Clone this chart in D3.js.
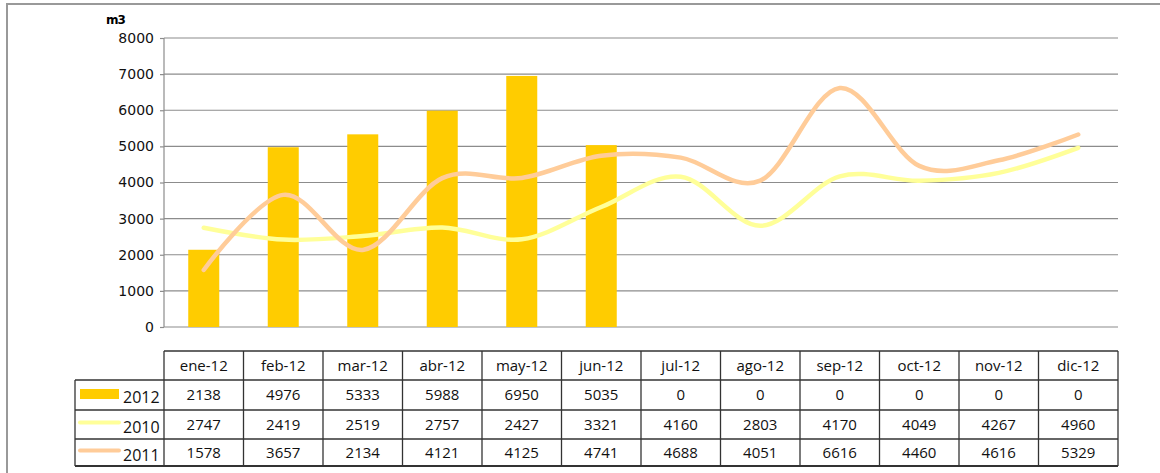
<!DOCTYPE html>
<html>
<head>
<meta charset="utf-8">
<script src="https://cdn.jsdelivr.net/npm/d3@7"></script>
<style>
  body { margin: 0; background: #fff; }
  svg { display: block; }
  .tick text { font-family: "DejaVu Sans", sans-serif; font-size: 14px; fill: #111; }
  .cell { font-family: "Open Sans", sans-serif; font-size: 15px; fill: #111; }
</style>
</head>
<body>
<div id="chart"></div>
<script>
var months = ["ene-12", "feb-12", "mar-12", "abr-12", "may-12", "jun-12", "jul-12", "ago-12", "sep-12", "oct-12", "nov-12", "dic-12"];
var s2012 = [2138, 4976, 5333, 5988, 6950, 5035, 0, 0, 0, 0, 0, 0];
var s2010 = [2747, 2419, 2519, 2757, 2427, 3321, 4160, 2803, 4170, 4049, 4267, 4960];
var s2011 = [1578, 3657, 2134, 4121, 4125, 4741, 4688, 4051, 6616, 4460, 4616, 5329];
var yTicks = [0, 1000, 2000, 3000, 4000, 5000, 6000, 7000, 8000];

var W = 1160, H = 473,
    plotLeft = 164, plotRight = 1118, plotTop = 38, plotBottom = 327,
    colors = { bar: "#ffcc00", l2010: "#ffff99", l2011: "#ffcc99" };

var svg = d3.select("#chart").append("svg")
    .attr("width", W)
    .attr("height", H);

// outer frame
svg.append("rect")
    .attr("x", 7).attr("y", 4)
    .attr("width", W + 20).attr("height", H + 20)
    .attr("fill", "none")
    .attr("stroke", "#999")
    .attr("stroke-width", 2);

var x = d3.scaleBand().domain(months).range([plotLeft, plotRight]).paddingInner(0.61).paddingOuter(0.305);
var xc = d3.scaleBand().domain(months).range([plotLeft, plotRight]);
var y = d3.scaleLinear().domain([0, 8000]).range([plotBottom, plotTop]);

// gridlines
svg.append("g").selectAll("line")
    .data(yTicks)
    .enter().append("line")
    .attr("x1", plotLeft).attr("x2", plotRight)
    .attr("y1", function (d) { return y(d); })
    .attr("y2", function (d) { return y(d); })
    .attr("stroke", "#8c8c8c")
    .attr("stroke-width", 1.2);

var yAxis = svg.append("g")
    .attr("transform", "translate(" + plotLeft + ",0)")
    .call(d3.axisLeft(y).tickValues(yTicks).tickSize(4).tickPadding(6).tickFormat(d3.format("d")));
yAxis.selectAll("path, line").attr("stroke", "#8c8c8c").attr("stroke-width", 1.2);
yAxis.select(".domain").attr("d", "M0," + plotBottom + "V" + plotTop);

svg.append("text")
    .attr("x", 106).attr("y", 24)
    .attr("font-family", "DejaVu Sans, sans-serif")
    .attr("font-size", 12)
    .attr("font-weight", "bold")
    .attr("letter-spacing", -1)
    .text("m3");

// bars 2012
svg.append("g").selectAll("rect")
    .data(s2012)
    .enter().append("rect")
    .attr("x", function (d, i) { return x(months[i]); })
    .attr("y", function (d) { return y(d); })
    .attr("width", x.bandwidth())
    .attr("height", function (d) { return y(0) - y(d); })
    .attr("fill", colors.bar);

var line = d3.line()
    .x(function (d, i) { return xc(months[i]) + xc.bandwidth() / 2; })
    .y(function (d) { return y(d); })
    .curve(d3.curveCardinal.tension(0));

svg.append("path")
    .datum(s2010)
    .attr("d", line)
    .attr("fill", "none")
    .attr("stroke", colors.l2010)
    .attr("stroke-width", 4.5)
    .attr("stroke-linecap", "round");

svg.append("path")
    .datum(s2011)
    .attr("d", line)
    .attr("fill", "none")
    .attr("stroke", colors.l2011)
    .attr("stroke-width", 4.5)
    .attr("stroke-linecap", "round");

// data table
var rowTops = [351, 380, 410, 439, 466];
var legLeft = 75;
var table = svg.append("g");
var rows = [
    { name: "2012", vals: s2012, kind: "bar", color: colors.bar },
    { name: "2010", vals: s2010, kind: "line", color: colors.l2010 },
    { name: "2011", vals: s2011, kind: "line", color: colors.l2011 }
];

// header text
table.selectAll(".hdr")
    .data(months)
    .enter().append("text")
    .attr("class", "cell")
    .attr("x", function (d) { return xc(d) + xc.bandwidth() / 2; })
    .attr("y", (rowTops[0] + rowTops[1]) / 2 + 5)
    .attr("text-anchor", "middle")
    .text(function (d) { return d; });

rows.forEach(function (r, ri) {
    var mid = (rowTops[ri + 1] + rowTops[ri + 2]) / 2;
    table.selectAll(".v" + ri)
        .data(r.vals)
        .enter().append("text")
        .attr("class", "cell")
        .attr("x", function (d, i) { return xc(months[i]) + xc.bandwidth() / 2; })
        .attr("y", mid + 5)
        .attr("text-anchor", "middle")
        .text(function (d) { return d; });
    if (r.kind === "bar") {
        table.append("rect")
            .attr("x", 80).attr("y", mid - 6)
            .attr("width", 39).attr("height", 10)
            .attr("fill", r.color);
    } else {
        table.append("line")
            .attr("x1", 80).attr("x2", 119)
            .attr("y1", mid - 2).attr("y2", mid - 2)
            .attr("stroke", r.color)
            .attr("stroke-width", 4)
            .attr("stroke-linecap", "round");
    }
    table.append("text")
        .attr("class", "cell")
        .attr("x", 123)
        .attr("y", mid + 8)
        .attr("font-size", 16)
        .style("font-size", "16px")
        .text(r.name);
});

// table grid lines
var stroke = "#333";
table.append("line").attr("x1", plotLeft).attr("x2", plotRight).attr("y1", rowTops[0]).attr("y2", rowTops[0]);
[1, 2, 3].forEach(function (k) {
    table.append("line").attr("x1", legLeft).attr("x2", plotRight).attr("y1", rowTops[k]).attr("y2", rowTops[k]);
});
table.append("line").attr("x1", legLeft).attr("x2", plotRight).attr("y1", rowTops[4]).attr("y2", rowTops[4]).attr("stroke-width", 2);
table.append("line").attr("x1", legLeft).attr("x2", legLeft).attr("y1", rowTops[1]).attr("y2", rowTops[4]);
months.concat(["end"]).forEach(function (m, i) {
    var xx = i < months.length ? xc(m) : plotRight;
    table.append("line").attr("x1", xx).attr("x2", xx).attr("y1", rowTops[0]).attr("y2", rowTops[4]);
});
table.selectAll("line").filter(function () { return !this.getAttribute("stroke"); })
    .attr("stroke", stroke)
    .attr("stroke-width", function () { return this.getAttribute("stroke-width") || 1.3; });
</script>
</body>
</html>
